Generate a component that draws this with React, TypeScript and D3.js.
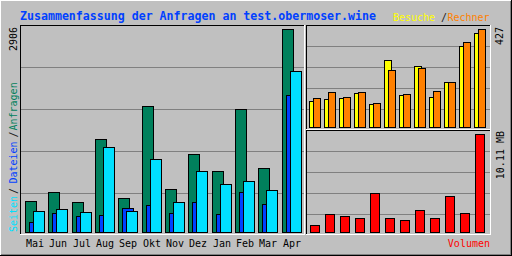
import React from "react";
import * as d3 from "d3";

// monthly summary, values
const months = ["Mai", "Jun", "Jul", "Aug", "Sep", "Okt", "Nov", "Dez", "Jan", "Feb", "Mar", "Apr"];
const anfragen = [445, 574, 430, 1334, 483, 1807, 612, 1119, 870, 1760, 913, 2906];
const dateien = [143, 272, 229, 244, 344, 387, 272, 430, 258, 574, 401, 1965];
const seiten = [301, 330, 287, 1219, 301, 1047, 430, 875, 688, 731, 602, 2309];
const besuche = [115, 123, 128, 149, 102, 293, 141, 267, 132, 197, 354, 411];
const rechner = [128, 154, 132, 154, 106, 250, 145, 258, 158, 197, 372, 427];
const volumenMB = [0.72, 1.86, 1.65, 1.44, 4.02, 1.44, 1.24, 2.27, 1.44, 3.71, 1.96, 10.11];

const maxAnfragen = 2906;
const maxRechner = 427;
const maxVolumen = 10.11;

const title = "Zusammenfassung der Anfragen an test.obermoser.wine";

const GREY = "#c0c0c0";
const DKGREY = "#808080";
const HIT = "#00805c";
const FILE = "#0040ff";
const PAGE = "#00e0ff";
const VISIT = "#ffff00";
const SITE = "#ff8000";
const KBYTE = "#ff0000";
const MONO = "'DejaVu Sans Mono', monospace";

function Bar({x, w, top, base, fill}: {x: number, w: number, top: number, base: number, fill: string}) {
  return <rect x={x + 0.5} y={top + 0.5} width={w} height={Math.max(base - top, 0)} fill={fill} stroke="black" strokeWidth={1}/>;
}

// inset 3d panel: black top/left, white bottom/right
function Panel({x0, y0, x1, y1}: {x0: number, y0: number, x1: number, y1: number}) {
  return <g>
    <line x1={x0} y1={y0 + 0.5} x2={x1} y2={y0 + 0.5} stroke="black"/>
    <line x1={x0 + 0.5} y1={y0} x2={x0 + 0.5} y2={y1} stroke="black"/>
    <line x1={x0} y1={y1 + 0.5} x2={x1 + 1} y2={y1 + 0.5} stroke="white"/>
    <line x1={x1 + 0.5} y1={y0} x2={x1 + 0.5} y2={y1 + 1} stroke="white"/>
  </g>;
}

export default function App() {
  const width = 512, height = 256;

  const xMain = d3.scaleBand<string>().domain(months).range([22, 302]);
  const xRight = d3.scaleBand<string>().domain(months).range([307, 487]);

  const yMain = d3.scaleLinear().domain([0, maxAnfragen]).range([232, 29]);
  const ySites = d3.scaleLinear().domain([0, maxRechner]).range([127, 29]);
  const yVol = d3.scaleLinear().domain([0, maxVolumen]).range([232, 134]);

  // grid lines split each panel into five bands
  const gMain = d3.scaleLinear().domain([0, 5]).range([235, 25]);
  const gTop = d3.scaleLinear().domain([0, 5]).range([130, 25]);
  const gBot = d3.scaleLinear().domain([0, 5]).range([235, 130]);
  const gridIdx = [1, 2, 3, 4];

  const r = Math.round;

  return (
    <svg width={width} height={height} style={{position: "absolute", left: 0, top: 0, display: "block"}}
         fontFamily={MONO}>
      <rect x={0} y={0} width={width} height={height} fill={GREY}/>
      {/* outer shadow border */}
      <line x1={0} y1={0.5} x2={512} y2={0.5} stroke="white"/>
      <line x1={0.5} y1={0} x2={0.5} y2={256} stroke="white"/>
      <line x1={1} y1={254.5} x2={512} y2={254.5} stroke={DKGREY}/>
      <line x1={510.5} y1={1} x2={510.5} y2={256} stroke={DKGREY}/>
      <line x1={0} y1={255.5} x2={512} y2={255.5} stroke="black"/>
      <line x1={511.5} y1={0} x2={511.5} y2={256} stroke="black"/>

      {/* grid */}
      {gridIdx.map(i => <line key={"gm" + i} x1={21} x2={304} y1={gMain(i) + 0.5} y2={gMain(i) + 0.5} stroke={DKGREY}/>)}
      {gridIdx.map(i => <line key={"gt" + i} x1={307} x2={490} y1={gTop(i) + 0.5} y2={gTop(i) + 0.5} stroke={DKGREY}/>)}
      {gridIdx.map(i => <line key={"gb" + i} x1={307} x2={490} y1={gBot(i) + 0.5} y2={gBot(i) + 0.5} stroke={DKGREY}/>)}

      {/* main panel: Anfragen / Dateien / Seiten */}
      {months.map((m, i) => {
        const x = r(xMain(m)!) + 3;
        return <g key={"main" + m}>
          <Bar x={x} w={11} top={r(yMain(anfragen[i]))} base={232} fill={HIT}/>
          <Bar x={x + 4} w={11} top={r(yMain(dateien[i]))} base={232} fill={FILE}/>
          <Bar x={x + 8} w={11} top={r(yMain(seiten[i]))} base={232} fill={PAGE}/>
          <text x={x + 10} y={247} textAnchor="middle" fontSize={10} fill="black">{m}</text>
        </g>;
      })}

      {/* top right: Besuche / Rechner */}
      {months.map((m, i) => {
        const x = r(xRight(m)!) + 2;
        return <g key={"site" + m}>
          <Bar x={x} w={7} top={r(ySites(besuche[i]))} base={127} fill={VISIT}/>
          <Bar x={x + 4} w={7} top={r(ySites(rechner[i]))} base={127} fill={SITE}/>
        </g>;
      })}

      {/* bottom right: Volumen */}
      {months.map((m, i) => {
        const x = r(xRight(m)!) + 3;
        return <Bar key={"vol" + m} x={x} w={9} top={r(yVol(volumenMB[i]))} base={232} fill={KBYTE}/>;
      })}

      <Panel x0={20} y0={25} x1={304} y1={234}/>
      <Panel x0={306} y0={25} x1={490} y1={129}/>
      <Panel x0={306} y0={130} x1={490} y1={234}/>

      {/* titles and labels */}
      <text x={20} y={19.5} fontSize={11.6} fontWeight="bold" fill="#0040ff">{title}</text>
      <text x={393} y={21} fontSize={10} fill={VISIT}>Besuche</text>
      <text x={441} y={21} fontSize={10} fill="#202020">/</text>
      <text x={447.5} y={21} fontSize={10} fill={SITE}>Rechner</text>
      <text x={490} y={247} fontSize={10} textAnchor="end" fill={KBYTE}>Volumen</text>

      <g fontSize={10}>
        <text transform="translate(16.5,232) rotate(-90)" fill={PAGE}>Seiten</text>
        <text transform="translate(16.5,194) rotate(-90)" fill="#202020">/</text>
        <text transform="translate(16.5,183.5) rotate(-90)" fill={FILE}>Dateien</text>
        <text transform="translate(16.5,137.5) rotate(-90)" fill="#202020">/</text>
        <text transform="translate(16.5,130.5) rotate(-90)" fill={HIT}>Anfragen</text>
        <text transform="translate(16.5,27) rotate(-90)" textAnchor="end" fill="black">{String(maxAnfragen)}</text>
        <text transform="translate(503,27) rotate(-90)" textAnchor="end" fill="black">{String(maxRechner)}</text>
        <text transform="translate(503.5,131) rotate(-90)" textAnchor="end" fill="black">{maxVolumen.toFixed(2) + " MB"}</text>
      </g>
    </svg>
  );
}
